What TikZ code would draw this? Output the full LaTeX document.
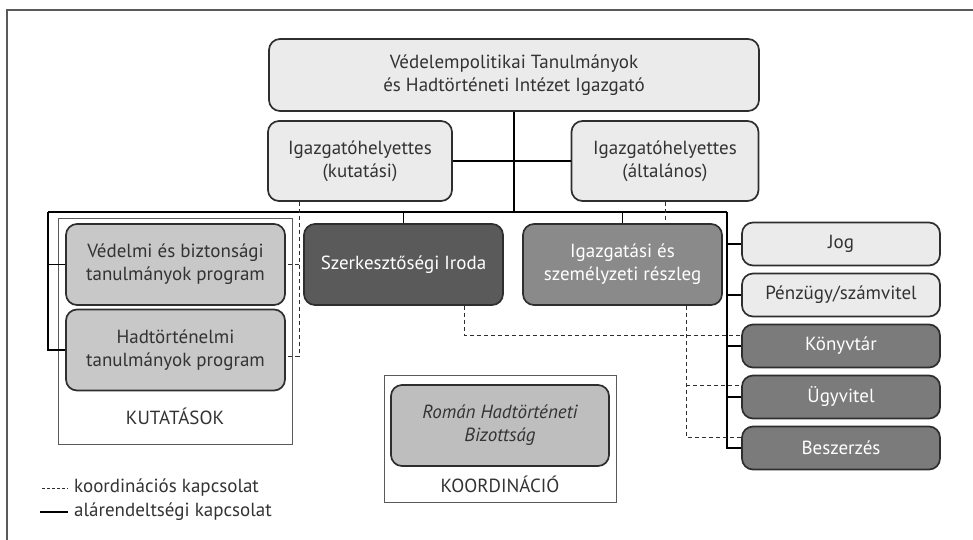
\documentclass[tikz,border=0pt]{standalone}
\usepackage{fontspec}
\setmainfont{PT Sans}
\usepackage{tikz}
\usetikzlibrary{calc}

\definecolor{boxline}{HTML}{2E2E2E}
\definecolor{lightbox}{HTML}{EBEBEB}
\definecolor{progbox}{HTML}{C8C8C8}
\definecolor{romanbox}{HTML}{BEBEBE}
\definecolor{darkbox}{HTML}{5A5A5A}
\definecolor{midbox}{HTML}{8A8A8A}
\definecolor{unitbox}{HTML}{7B7B7B}
\definecolor{txt}{HTML}{333333}
\definecolor{framecol}{HTML}{5A5A5A}
\newcommand\boxfont{\fontsize{19}{23}\selectfont}

\begin{document}
\begin{tikzpicture}[x=1pt,y=-1pt,
  main/.style = {draw=boxline, line width=1.7pt, rounded corners=11pt, align=center, text=txt, font=\boxfont, inner sep=0pt},
  light/.style = {main, fill=lightbox},
  prog/.style = {main, fill=progbox, minimum width=219pt, minimum height=81pt},
  unit/.style = {main, minimum width=198pt, minimum height=43pt},
  sub/.style = {line width=1.6pt, draw=black},
  coord/.style = {line width=0.9pt, draw=boxline, dash pattern=on 4pt off 3pt},
  frm/.style = {draw=framecol, line width=1pt},
  node distance={51pt}]
\useasboundingbox (0,0) rectangle (973,539);
\fill[white] (0,0) rectangle (973,539);
\draw[framecol, line width=1.5pt] (7,545) -- (7,10) -- (980,10);

% groups
\draw[frm] (58,218) rectangle (292,444);
\draw[frm] (384,375) rectangle (616,502);

\node[light, minimum width=490pt, minimum height=72pt] (1) at (514,75) {Védelempolitikai Tanulmányok\\és Hadtörténeti Intézet Igazgató};
\node[light, minimum width=184pt, minimum height=80pt] (2) at (360,161) {Igazgatóhelyettes\\(kutatási)};
\node[light, minimum width=187pt, minimum height=80pt] (3) at (665,161) {Igazgatóhelyettes\\(általános)};
\node[prog] (4) at (175.5,264.5) {Védelmi és biztonsági\\tanulmányok program};
\node[prog] (5) [below of=4, node distance=85.5pt] {Hadtörténelmi\\tanulmányok program};
\node[main, fill=darkbox, text=white, minimum width=199pt, minimum height=81pt] (6) at (403.5,264.5) {Szerkesztőségi Iroda};
\node[main, fill=midbox, text=white, minimum width=199pt, minimum height=81pt] (7) at (622.5,264.5) {Igazgatási és\\személyzeti részleg};
\node[unit, fill=lightbox] (8) at (841,244) {Jog};
\node[unit, fill=lightbox] (9) [below of=8] {Pénzügy/számvitel};
\node[unit, fill=unitbox, text=white] (10) [below of=9] {Könyvtár};
\node[unit, fill=unitbox, text=white] (11) [below of=10] {Ügyvitel};
\node[unit, fill=unitbox, text=white] (12) [below of=11] {Beszerzés};
\node[main, fill=romanbox, minimum width=218pt, minimum height=81pt, font=\boxfont\itshape] (13) at (500,425.5) {Román Hadtörténeti\\Bizottság};

\node[text=txt, font=\boxfont] (kut) at (175,416) {KUTATÁSOK};
\node[text=txt, font=\boxfont] (koo) at (500,484) {KOORDINÁCIÓ};

% subordination
\coordinate (l) at (48,212);
\coordinate (r) at (727,212);
\draw[sub] (1.south) -- (1.south |- l);
\draw[sub] (2.east) -- (3.west);
\draw[sub] (l) -- (r);
\draw[sub] (l) |- (4.west);
\draw[sub] (l) |- (5.west);
\draw[sub] (6.north) -- (6.north |- l);
\draw[sub] (7.north) -- (7.north |- l);
\draw[sub] (r) |- (12.west);
\draw[sub] (r |- 8.west) -- (8.west);
\draw[sub] (r |- 9.west) -- (9.west);
\draw[sub] (r |- 10.west) -- (10.west);
\draw[sub] (r |- 11.west) -- (11.west);

% coordination
\coordinate (d1) at (299,356);
\coordinate (d2) at (464,335);
\coordinate (d3) at (686,385);
\coordinate (d4) at (686,437);
\draw[coord] (2.south -| d1) -- (d1) -- (d1 -| 5.east);
\draw[coord] (d1 |- 4.east) -- (4.east);
\draw[coord] (3.south) -- (3.south |- 7.north);
\draw[coord] (6.south -| d2) -- (d2) -- (d2 -| 10.west);
\draw[coord] (7.south -| d3) -- (d4) -- (d4 -| 12.west);
\draw[coord] (d3) -- (d3 -| 11.west);

% legend
\coordinate (k1) at (42,488);
\coordinate (k2) at (68,488);
\coordinate (a1) at (40,512);
\coordinate (a2) at (68,512);
\draw[coord, line width=0.7pt, dash pattern=on 3pt off 2pt] (k1) -- (k2);
\draw[sub] (a1) -- (a2);
\node[anchor=west, text=txt, font=\boxfont, inner sep=0pt] (kk) at (74,488) {koordinációs kapcsolat};
\node[anchor=west, text=txt, font=\boxfont, inner sep=0pt] (ak) at (74,512) {alárendeltségi kapcsolat};
\end{tikzpicture}
\end{document}
